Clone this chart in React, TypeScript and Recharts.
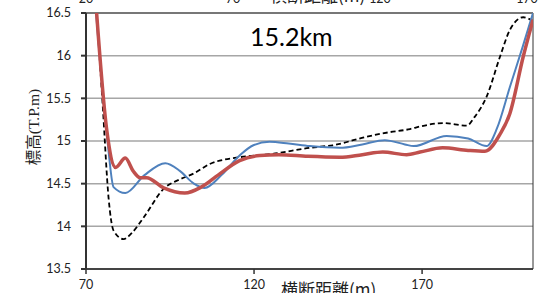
import { LineChart, Line, XAxis, YAxis, CartesianGrid, ReferenceArea } from "recharts";

// 横断距離 (m) / 標高 (T.P.m)
const blackX = [73.0, 75.0, 76.7, 78.2, 81.2, 83.6, 87.1, 93.1, 97.9, 102.1, 106.8, 115.7, 125.5, 136.6, 143.4, 153.5, 159.8, 166.4, 169.4, 176.2, 183.3, 185.6, 189.2, 193.2, 196.1, 200.1, 202.8];
const blackY = [16.62, 15.4, 14.34, 13.95, 13.85, 13.92, 14.1, 14.44, 14.55, 14.62, 14.73, 14.81, 14.85, 14.92, 14.95, 15.05, 15.1, 15.14, 15.17, 15.21, 15.18, 15.28, 15.52, 15.99, 16.3, 16.45, 16.41];

const blueX = [72.8, 76.4, 78.2, 81.7, 87.4, 93.6, 97.9, 102.1, 105.3, 110.3, 115.7, 119.8, 124.6, 130.3, 136.6, 145.5, 152.2, 158.9, 164.9, 167.5, 177.3, 183.7, 189.2, 192.3, 196.1, 199.9, 203.0];
const blueY = [16.6, 15.0, 14.46, 14.39, 14.6, 14.74, 14.65, 14.5, 14.45, 14.6, 14.83, 14.95, 14.99, 14.97, 14.94, 14.92, 14.96, 15.01, 14.96, 14.94, 15.06, 15.03, 14.94, 15.15, 15.63, 16.1, 16.5];

const redX = [72.9, 76.2, 78.8, 81.7, 84.0, 86.1, 88.0, 93.1, 99.4, 104.3, 109.3, 115.7, 121.7, 127.4, 136.0, 145.5, 152.2, 158.3, 165.4, 169.4, 176.1, 183.7, 188.7, 193.2, 196.1, 200.1, 203.0];
const redY = [16.64, 15.12, 14.69, 14.8, 14.65, 14.57, 14.57, 14.45, 14.39, 14.46, 14.6, 14.77, 14.83, 14.84, 14.82, 14.81, 14.84, 14.87, 14.84, 14.87, 14.92, 14.89, 14.88, 15.08, 15.32, 15.99, 16.42];

const xTicks = [70, 120, 170];
const yTicks = [13.5, 14, 14.5, 15, 15.5, 16, 16.5];
const topLabels = [
  { text: "20", x: 86 },
  { text: "70", x: 233 },
  { text: "120", x: 380 },
  { text: "170", x: 527 },
];

const toPoints = (xs: number[], ys: number[]) => xs.map((x, i) => ({ x, y: ys[i] }));

const tickFont = { fontSize: 12.5, fill: "#222", fontFamily: "Lato, 'Noto Sans', sans-serif" };

export default function App() {
  return (
    <div style={{ position: "absolute", left: 0, top: 0, width: 546, height: 293, overflow: "hidden", background: "#fff" }}>
      <LineChart width={546} height={293} margin={{ top: 13, right: 13, bottom: 0, left: 0 }}>
        <CartesianGrid horizontal vertical={false} stroke="#a6a6a6" strokeWidth={1.5} />
        <XAxis
          type="number"
          dataKey="x"
          domain={[70, 203]}
          ticks={xTicks}
          allowDataOverflow
          height={24}
          tick={tickFont}
          tickSize={5}
          tickMargin={6}
          stroke="#333"
          strokeWidth={1.5}
        />
        <YAxis
          type="number"
          dataKey="y"
          domain={[13.5, 16.5]}
          ticks={yTicks}
          allowDataOverflow
          width={86}
          tick={tickFont}
          tickSize={5}
          tickMargin={10}
          stroke="#333"
          strokeWidth={2}
        />
        <ReferenceArea x1={70} x2={203} y1={13.5} y2={16.5} fill="none" stroke="#333" strokeWidth={1} />
        <Line
          data={toPoints(blackX, blackY)}
          dataKey="y"
          type="monotone"
          stroke="#000"
          strokeWidth={1.8}
          strokeDasharray="5 3"
          dot={false}
          isAnimationActive={false}
        />
        <Line
          data={toPoints(blueX, blueY)}
          dataKey="y"
          type="monotone"
          stroke="#4F81BD"
          strokeWidth={2}
          dot={false}
          isAnimationActive={false}
        />
        <Line
          data={toPoints(redX, redY)}
          dataKey="y"
          type="monotone"
          stroke="#C0504D"
          strokeWidth={3.5}
          dot={false}
          isAnimationActive={false}
        />
      </LineChart>

      {topLabels.map((l) => (
        <div
          key={l.text}
          style={{ position: "absolute", left: l.x - 20, width: 40, top: -9, textAlign: "center", fontSize: 12.5, lineHeight: "15px", color: "#222", fontFamily: "Lato, sans-serif" }}
        >
          {l.text}
        </div>
      ))}
      <div style={{ position: "absolute", left: 270, top: -15, fontSize: 17, lineHeight: "20px", color: "#222", fontFamily: "'Noto Sans CJK JP', sans-serif" }}>
        横断距離(m)
      </div>

      <div style={{ position: "absolute", left: 250, top: 21, fontSize: 25, lineHeight: "30px", color: "#000", fontFamily: "Lato, sans-serif" }}>
        15.2km
      </div>

      <div style={{ position: "absolute", left: 281, top: 278, fontSize: 17, lineHeight: "22px", color: "#222", fontFamily: "'Noto Sans CJK JP', sans-serif", whiteSpace: "nowrap" }}>
        横断距離(m)
      </div>

      <div
        style={{
          position: "absolute",
          left: 34,
          top: 127,
          transform: "translate(-50%, -50%) rotate(-90deg)",
          fontSize: 15.5,
          lineHeight: "18px",
          color: "#222",
          whiteSpace: "nowrap",
          fontFamily: "'Liberation Serif', 'Noto Sans CJK JP', serif",
        }}
      >
        標高(T.P.m)
      </div>
    </div>
  );
}
